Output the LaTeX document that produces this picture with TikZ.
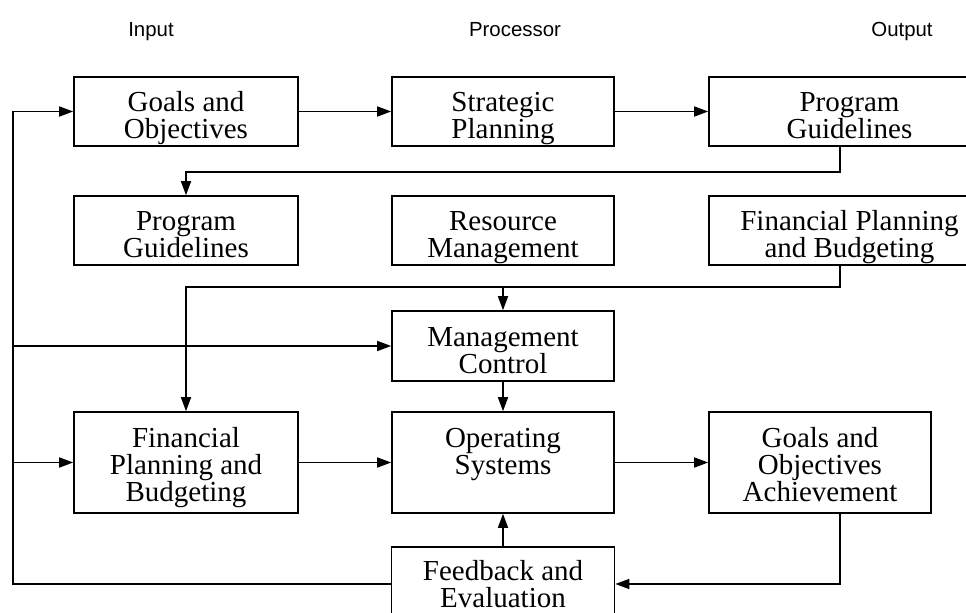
\documentclass[tikz,border=0pt]{standalone}
\usepackage{fontspec}
\setmainfont{Liberation Serif}
\newfontfamily\headfont{Liberation Sans}
\usetikzlibrary{arrows.meta}
\tikzset{
	box/.style={draw, line width=0.8pt, align=center, inner sep=1pt, font=\fontsize{14.5}{13.5}\selectfont,
		text height=29.5pt, text depth=2pt},
	tall/.style={box, text height=43pt, text depth=3.5pt},
	arr/.style={line width=0.8pt, -{Triangle[length=7pt,width=5pt]}},
	head/.style={font=\headfont\fontsize{10.2}{12}\selectfont, anchor=base}
}
\begin{document}
\begin{tikzpicture}[x=0.5pt,y=-0.5pt]
	\clip (0,0) rectangle (966,613);
	\node[head] (inp) at (151,37) {Input};
	\node[head] (proc) at (515,37) {Processor};
	\node[head] (outp) at (902,37) {Output};
	\node[box, minimum width=112pt, minimum height=34.5pt] (goals) at (186,111.5) {Goals and\\Objectives};
	\node[box, minimum width=111pt, minimum height=34.5pt] (strat) at (503,111.5) {Strategic\\Planning};
	\node[box, minimum width=140.5pt, minimum height=34.5pt] (pgout) at (849.5,111.5) {Program\\Guidelines};
	\node[box, minimum width=112pt, minimum height=34.5pt] (pgin) at (186,230.5) {Program\\Guidelines};
	\node[box, minimum width=111pt, minimum height=34.5pt] (resmgmt) at (503,230.5) {Resource\\Management};
	\node[box, minimum width=140.5pt, minimum height=34.5pt] (finout) at (849.5,230.5) {Financial Planning\\and Budgeting};
	\node[box, minimum width=111pt, minimum height=35pt] (mgmt) at (503,346) {Management\\Control};
	\node[tall, minimum width=112pt, minimum height=50.5pt] (finin) at (186,462.5) {Financial\\Planning and\\Budgeting};
	\node[tall, minimum width=111pt, minimum height=50.5pt] (opsys) at (503,462.5) {Operating\\Systems\\\mbox{}};
	\node[tall, minimum width=111pt, minimum height=50.5pt] (achieve) at (820,462.5) {Goals and\\Objectives\\Achievement};
	\node[box, text height=26pt, minimum width=111.5pt, minimum height=37pt] (feedback) at (503,584) {Feedback and\\Evaluation};
	\coordinate (rline) at (840,0);
	\coordinate (lbus) at (13,111.5);
	\coordinate (gap1) at (0,172);
	\coordinate (gap2) at (0,287);
	\draw[arr] (goals) -- (strat);
	\draw[arr] (strat) -- (pgout);
	\draw[arr] (pgout.south -| rline) |- (gap1 -| pgin) -- (pgin.north);
	\draw[arr] (finout.south -| rline) |- (gap2 -| finin) -- (finin.north);
	\draw[arr] (gap2 -| mgmt) -- (mgmt.north);
	\draw[arr] (mgmt) -- (opsys);
	\draw[arr] (finin) -- (opsys);
	\draw[arr] (opsys) -- (achieve);
	\draw[arr] (achieve.south -| rline) |- (feedback.east);
	\draw[arr] (feedback) -- (opsys);
	\draw[arr] (feedback.west) -| (lbus) -- (goals.west);
	\draw[arr] (mgmt.west -| lbus) -- (mgmt.west);
	\draw[arr] (finin.west -| lbus) -- (finin.west);
\end{tikzpicture}
\end{document}
